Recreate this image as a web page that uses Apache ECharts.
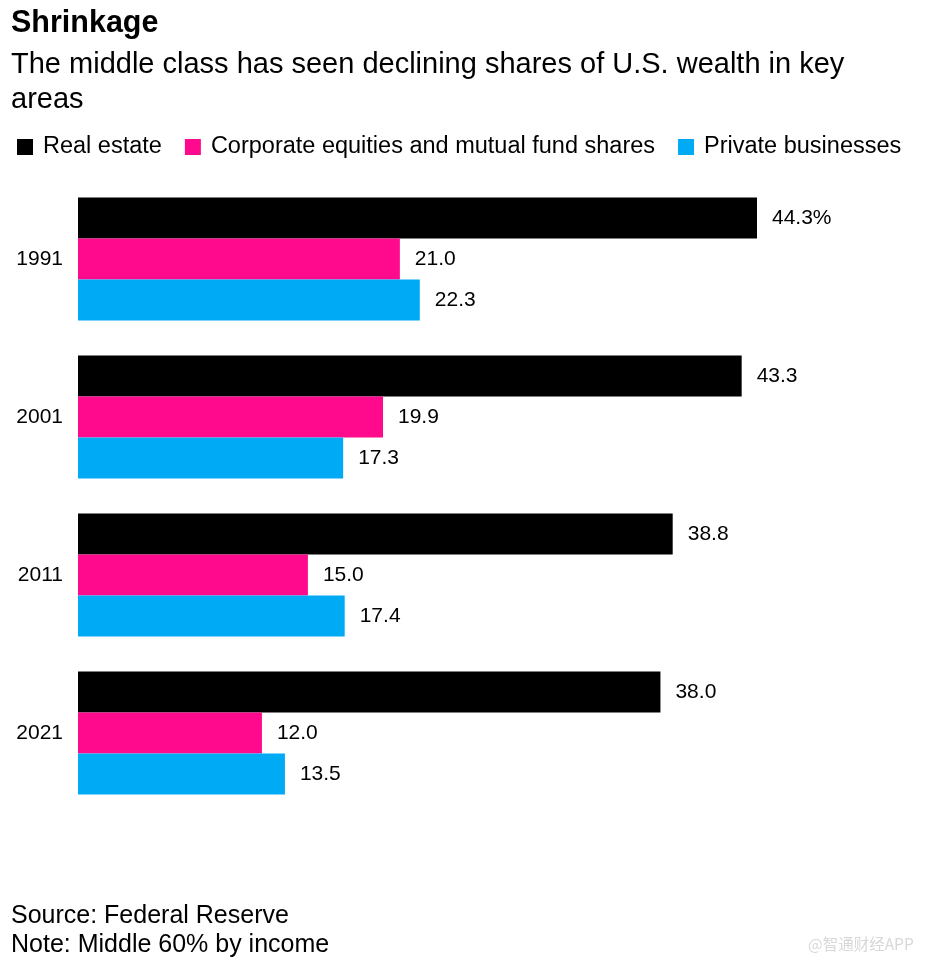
<!DOCTYPE html>
<html>
<head>
<meta charset="utf-8">
<script src="https://cdn.jsdelivr.net/npm/echarts@6/dist/echarts.min.js"></script>
<style>
html,body{margin:0;padding:0;background:#fff;}
#main{width:927px;height:965px;}
</style>
</head>
<body>
<div id="main"></div>
<script>
const categories = ['1991', '2001', '2011', '2021'];
const realEstate = [44.3, 43.3, 38.8, 38.0];
const equities = [21.0, 19.9, 15.0, 12.0];
const privateBiz = [22.3, 17.3, 17.4, 13.5];
const seriesNames = ['Real estate', 'Corporate equities and mutual fund shares', 'Private businesses'];
const colors = ['#000000', '#ff0a8c', '#00aaf5'];

const FONT = '"Liberation Sans", Arial, sans-serif';
const chart = echarts.init(document.getElementById('main'), null, {renderer: 'canvas'});

function labelFmt(p) {
  const v = p.value.toFixed(1);
  return (p.seriesIndex === 0 && p.dataIndex === 0) ? v + '%' : v;
}

const seriesData = [realEstate, equities, privateBiz];
chart.setOption({
  backgroundColor: '#fff',
  animation: false,
  title: [
    {text: 'Shrinkage', left: 6, top: 3, textStyle: {fontFamily: FONT, fontSize: 30.5, fontWeight: 'bold', color: '#000'}},
    {text: 'The middle class has seen declining shares of U.S. wealth in key\nareas', left: 6, top: 42,
     textStyle: {fontFamily: FONT, fontSize: 29, fontWeight: 'normal', color: '#000', lineHeight: 35}}
  ],
  legend: {
    left: 12, top: 130, itemWidth: 16, itemHeight: 16, itemGap: 23,
    icon: 'rect',
    textStyle: {fontFamily: FONT, fontSize: 23.5, color: '#000', padding: [0, 0, 0, 5]},
    data: seriesNames
  },
  grid: {left: 78, right: 6, top: 180, height: 632},
  xAxis: {type: 'value', min: 0, max: 55, show: false},
  yAxis: {
    type: 'category', data: categories, inverse: true,
    axisLine: {show: false}, axisTick: {show: false},
    axisLabel: {fontFamily: FONT, fontSize: 21, color: '#000', margin: 15}
  },
  series: seriesData.map((d, i) => ({
    name: seriesNames[i], type: 'bar', data: d,
    itemStyle: {color: colors[i]},
    barGap: '0%', barCategoryGap: '22%',
    label: {show: true, position: 'right', distance: 15, formatter: labelFmt,
            fontFamily: FONT, fontSize: 21, color: '#000'}
  })),
  graphic: [
    {type: 'text', left: 11, top: 904, style: {text: 'Source: Federal Reserve', font: '25px ' + FONT, fill: '#000'}},
    {type: 'text', left: 11, top: 933, style: {text: 'Note: Middle 60% by income', font: '25px ' + FONT, fill: '#000'}},
    {type: 'text', left: 808, top: 936, style: {text: '@智通财经APP', font: '15.5px "Noto Sans CJK SC", sans-serif', fill: '#d8d8d8'}}
  ]
});
</script>
</body>
</html>
